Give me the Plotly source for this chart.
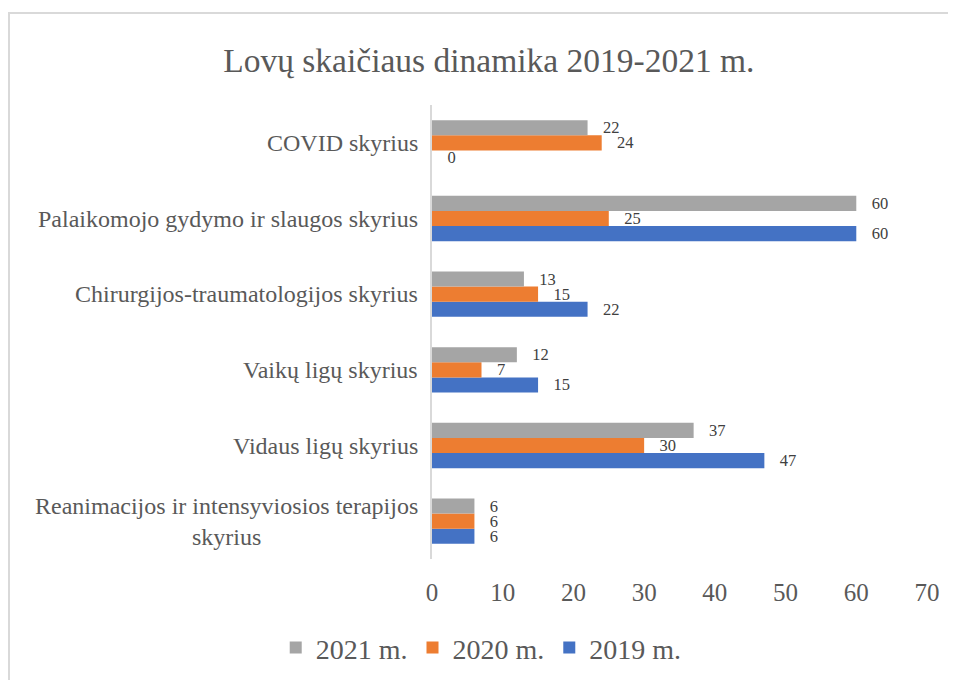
import plotly.graph_objects as go

categories = [
    "Reanimacijos ir intensyviosios terapijos<br>skyrius",
    "Vidaus ligų skyrius",
    "Vaikų ligų skyrius",
    "Chirurgijos-traumatologijos skyrius",
    "Palaikomojo gydymo ir slaugos skyrius",
    "COVID skyrius",
]
v2019 = [6, 47, 15, 22, 60, 0]
v2020 = [6, 30, 7, 15, 25, 24]
v2021 = [6, 37, 12, 13, 60, 22]
x_ticks = [0, 10, 20, 30, 40, 50, 60, 70]

FONT = "Liberation Serif, Times New Roman, serif"
TXT = "#595959"
PAD = "\u00a0\u00a0\u00a0"

fig = go.Figure()
for name, vals, col in [("2019 m.", v2019, "#4472C4"),
                        ("2020 m.", v2020, "#ED7D31"),
                        ("2021 m.", v2021, "#A5A5A5")]:
    fig.add_trace(go.Bar(
        y=categories, x=vals, name=name, orientation="h",
        marker=dict(color=col, line=dict(width=0)),
        text=[PAD + str(v) for v in vals], textposition="outside",
        constraintext="none",
        textfont=dict(family=FONT, size=16.5, color="#404040"),
        cliponaxis=False,
    ))

# category labels, centred multi-line like the original
annotations = [dict(text=c, xref="paper", yref="y", x=0, y=c, xanchor="right",
                    yanchor="middle", xshift=-12, align="center", showarrow=False,
                    font=dict(family=FONT, size=24, color=TXT))
               for c in categories]

L, R, T, B = 424, 37, 97, 129
pw, ph = 956 - L - R, 680 - T - B

fig.update_layout(
    width=956, height=680,
    paper_bgcolor="white", plot_bgcolor="white",
    barmode="group", bargap=0.4, bargroupgap=0,
    margin=dict(l=L, r=R, t=T, b=B),
    title=dict(text="Lovų skaičiaus dinamika 2019-2021 m.", x=0.503, xref="container",
               xanchor="center", y=0.9235, yref="container", yanchor="middle",
               font=dict(family=FONT, size=33.5, color=TXT)),
    font=dict(family=FONT, color=TXT),
    showlegend=True,
    legend=dict(orientation="h", traceorder="reversed", xref="container", x=0.495,
                xanchor="center", yref="container", y=0.059, yanchor="middle",
                font=dict(family=FONT, size=28, color=TXT), itemwidth=30),
    xaxis=dict(range=[0, 70], tickvals=x_ticks, showgrid=False, zeroline=False,
               showline=False, ticks="", tickfont=dict(family=FONT, size=25, color=TXT),
               ticklabelstandoff=16),
    yaxis=dict(showgrid=False, zeroline=False, showline=True, linecolor="#D9D9D9",
               linewidth=2, ticks="", showticklabels=False),
    annotations=annotations,
    shapes=[dict(type="rect", xref="paper", yref="paper", x0=(1 - L) / pw, x1=1.2,
                 y0=-0.5, y1=(680 - B - 5) / ph, line=dict(color="#D9D9D9", width=2))],
)
fig.write_html("out.html")
